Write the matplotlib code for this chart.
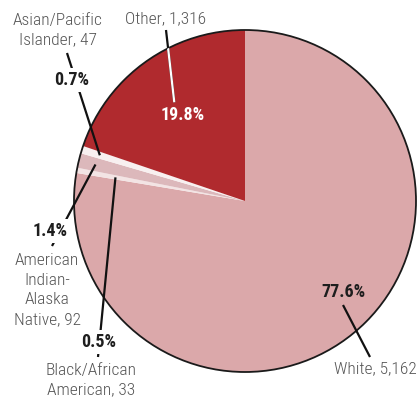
import numpy as np
import matplotlib
matplotlib.use("Agg")
import matplotlib.pyplot as plt
from matplotlib import font_manager
from matplotlib.patches import Circle

# race breakdown, drawn clockwise from 12 o'clock
groups = ["White", "Black/African\nAmerican", "American\nIndian-\nAlaska\nNative",
          "Asian/Pacific\nIslander", "Other"]
counts = [5162, 33, 92, 47, 1316]
colors = ["#dba8aa", "#f3e4e4", "#dcb8bb", "#f8f0f0", "#b02a2e"]

names = {f.name for f in font_manager.fontManager.ttflist}
narrow = next((n for n in ["Roboto Condensed", "Archivo Narrow", "PT Sans Narrow",
                           "Asap Condensed", "Sofia Sans Condensed", "DejaVu Sans"]
               if n in names))

W, H = 420, 400
fig = plt.figure(figsize=(W / 100, H / 100), dpi=100)
ax = fig.add_axes([0, 0, 1, 1])


def px(x, y):
    # pixel position (y down) -> axes data coords (y up)
    return x, H - y


cx, cy = px(245, 201)
R = 171

total = sum(counts)
pcts = [100 * c / total for c in counts]

wedges, _ = ax.pie(counts, colors=colors, startangle=90, counterclock=False,
                   center=(cx, cy), radius=R, frame=True,
                   wedgeprops=dict(linewidth=0))
outline = Circle((cx, cy), R, fill=False, ec="#1a1a1a", lw=1.3, zorder=3)
ax.add_patch(outline)

ax.set_xlim(0, W)
ax.set_ylim(0, H)
ax.set_aspect("equal")
ax.axis("off")


def inner(i, frac):
    w = wedges[i]
    a = np.deg2rad((w.theta1 + w.theta2) / 2)
    return cx + R * frac * np.cos(a), cy + R * frac * np.sin(a)


def leader(start, end, color="#111111", clip=None):
    ln, = ax.plot([start[0], end[0]], [start[1], end[1]], color=color,
                  lw=1.6, solid_capstyle="butt", zorder=4)
    if clip is not None:
        ln.set_clip_path(clip)
    return ln


gray = "#555555"
lab = dict(fontfamily=narrow, fontsize=12.5, fontweight=300, color=gray,
           ha="center", va="center", linespacing=1.38, zorder=6)
pct = dict(fontfamily=narrow, fontsize=13, fontweight="bold", color="#1e1e1e",
           ha="center", va="center", zorder=6)
knock = dict(boxstyle="square,pad=0.15", fc="white", ec="none")

# White
ax.text(*px(343, 292), f"{pcts[0]:.1f}%", **pct)
leader(px(343, 305), px(370, 357))
ax.text(*px(375, 369), f"{groups[0]}, {counts[0]:,}", **lab)

# Black/African American
leader(px(98, 357), inner(1, 0.77))
ax.text(*px(99, 342), f"{pcts[1]:.1f}%", bbox=knock, **pct)
ax.text(*px(91, 380), f"{groups[1]}, {counts[1]:,}", **lab)

# American Indian-Alaska Native
leader(px(52, 246), inner(2, 0.9))
ax.text(*px(50, 231), f"{pcts[2]:.1f}%", bbox=knock, **pct)
ax.text(*px(47, 290), f"{groups[2]}, {counts[2]:,}", **lab)

# Asian/Pacific Islander
leader(px(67, 53), inner(3, 0.89))
ax.text(*px(72, 80), f"{pcts[3]:.1f}%", bbox=knock, **pct)
ax.text(*px(58, 30), f"{groups[3]}, {counts[3]:,}", **lab)

# Other: black outside the pie, white inside
oth_start, oth_end = px(166, 30), inner(4, 0.71)
leader(oth_start, oth_end)
clip = Circle((cx, cy), R, transform=ax.transData)
leader(oth_start, oth_end, color="white", clip=clip)
ax.text(*px(183, 115), f"{pcts[4]:.1f}%", **dict(pct, color="white"))
ax.text(*px(166, 19), f"{groups[4]}, {counts[4]:,}", **lab)

fig.savefig("out.png", dpi=100, facecolor="white")
